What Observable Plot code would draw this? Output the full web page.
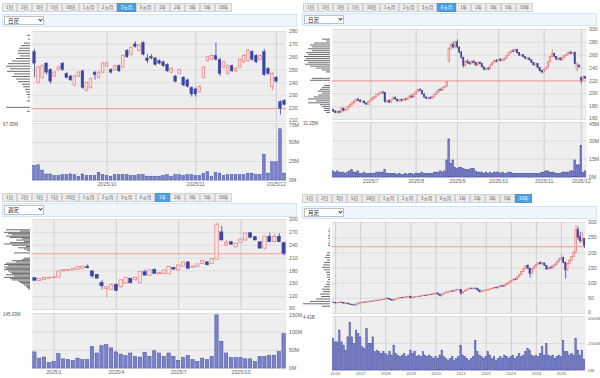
<!DOCTYPE html>
<html><head><meta charset="utf-8">
<script src="https://cdn.jsdelivr.net/npm/d3@7"></script>
<script src="https://cdn.jsdelivr.net/npm/@observablehq/plot@0.6"></script>
<style>
body{margin:0;width:600px;height:378px;position:relative;background:#fff;font-family:"Noto Sans CJK JP","Noto Sans",sans-serif;overflow:hidden}
.tab{position:absolute;height:9px;box-sizing:border-box;border:1px solid #d2d2d2;background:#ececec;color:#555;font-size:4.6px;line-height:7px;text-align:center;white-space:nowrap}
.tab.on{background:#4d9fe2;border-color:#4595db;color:#fff}
.band{position:absolute;box-sizing:border-box;background:#eef6fc;border:1px solid #d4e6f3}
.sel{position:absolute;box-sizing:border-box;background:#fff;border:1px solid #b8c3cc;font-size:5.5px;line-height:8px;color:#222;padding-left:3px}
.chev{position:absolute;width:2px;height:2px;border-right:1px solid #333;border-bottom:1px solid #333;transform:rotate(45deg)}
.lbl{position:absolute;font-size:4.5px;color:#555;font-family:"Liberation Sans",sans-serif;white-space:nowrap}
.holder{position:absolute}
svg{overflow:visible}
</style></head><body><script>
// ---------- shared labels ----------
const tabLabels = ["1日","2日","3日","5日","10日","1ヵ月","2ヵ月","3ヵ月","6ヵ月","1年","2年","3年","5年","10年"];
const refPrice = 220;

// ---------- 3ヵ月 daily (top-left) : [open, high, low, close] ----------
const dailyOHLC3m = [
[264,266,244,255],[240,253,239,252],[244,254,243,253],[255,256,246,248],[250,251,239,241],
[245,249,244,248],[250,253,249,252],[255,256,249,250],[247,248,243,244],[245,246,241,242],
[238,246,237,245],[245,249,244,248],[249,250,235,236],[234,241,233,240],[236,244,235,243],
[248,249,242,246],[244,249,243,248],[248,256,247,255],[253,256,252,255],[250,251,247,248],
[250,254,249,253],[253,254,248,249],[252,262,251,261],[265,266,259,260],[262,268,261,267],
[270,272,267,268],[265,270,264,269],[271,272,261,262],[259,262,255,257],[260,262,258,259],
[259,260,253,254],[257,258,254,255],[256,257,252,253],[254,255,248,249],[248,252,247,251],
[245,246,240,241],[247,251,246,250],[244,245,237,238],[242,243,236,237],[236,237,229,231],
[235,236,229,231],[233,238,232,237],[244,253,243,252],[257,261,256,260],[258,262,257,261],
[261,271,257,258],[258,259,245,247],[252,257,251,256],[247,254,246,253],[253,254,248,249],
[249,252,248,251],[252,259,251,258],[256,262,255,261],[257,266,256,265],[264,265,257,258],
[261,262,255,256],[258,262,257,261],[264,266,245,246],[251,252,246,247],[237,248,234,247],
[244,245,240,241],[225,226,215,220],[226,227,222,223]];
const dailyVol3m = [19,20,13,8,8,6,6,7,7,8,7,5,8,6,6,6,10,7,6,5,7,7,7,7,6,6,7,7,5,5,5,5,6,7,5,7,7,6,7,7,6,6,9,11,5,10,9,6,7,7,7,7,7,9,9,7,7,34,9,24,24,67.35,9];
const priceByVol3m = [[277,3],[274,2],[271,6],[269,9],[267,11],[265,12],[263,12],[261,10],[259,14],[257,18],[255,22],[253,24],[251,20],[249,23],[247,16],[245,18],[243,14],[241,12],[239,8],[237,7],[235,5],[233,4],[231,3],[229,2],[226,3],[221,24],[218,3]];
const priceTicks3m = [210,220,230,240,250,260,270,280];
const volTicks3m = [0,25,50,75];
const dateIdx3m = [18,40,60];
const dateLabels3m = ["2025/10","2025/11","2025/12"];

// ---------- 6ヵ月 daily (top-right) ----------
const dailyOHLC6m = [
[175,176,171,172],[172,174,169,170],[170,173,168,172],[172,173,169,170],[171,178,170,177],
[177,178,172,173],[173,176,172,175],[175,180,174,179],[179,183,178,182],[182,186,181,185],
[185,189,184,188],[188,192,187,191],[191,193,188,189],[189,191,186,187],[187,189,185,188],
[188,189,184,185],[185,186,182,183],[183,188,182,187],
[187,191,186,190],[190,194,189,193],[193,196,191,195],[195,199,194,198],[198,201,196,200],
[200,203,199,202],[202,204,199,201],[201,202,185,187],[187,190,185,189],[189,190,185,186],
[186,191,185,190],[190,195,189,194],[194,195,190,191],[191,192,187,188],[188,191,187,190],
[190,192,187,189],[189,192,188,191],[191,193,189,190],[190,194,189,193],[193,197,192,196],
[196,198,193,194],[194,200,193,199],
[199,204,198,203],[203,207,202,206],[206,208,203,204],[204,205,198,199],[199,200,193,194],
[194,196,191,192],[192,194,190,193],[193,195,191,192],[192,196,191,195],[195,199,194,198],
[198,203,197,202],[202,207,201,206],[206,208,204,205],[205,210,204,209],[209,212,208,211],
[211,219,210,218],[250,272,248,270],[270,279,268,276],[276,280,270,272],[272,282,270,280],
[280,284,270,272],[272,273,262,264],[264,266,254,256],[256,257,240,243],[243,251,242,250],
[250,253,246,248],[248,250,244,246],[246,251,245,250],[250,252,247,248],[248,249,242,244],
[244,249,243,248],[248,250,245,246],[246,247,240,241],[241,242,236,237],[237,240,235,239],
[239,241,236,238],[238,245,237,244],[244,249,243,248],[248,252,247,251],[251,253,248,250],
[250,254,249,253],[253,255,250,251],[251,253,249,252],[252,256,251,255],[255,260,254,259],
[259,264,258,263],[263,267,262,266],[266,269,264,265],[265,269,264,268],[268,269,262,263],
[263,264,258,259],[259,261,257,260],[260,261,256,257],[257,258,253,254],[254,256,252,255],
[255,256,251,252],[252,253,247,248],[248,249,243,244],[244,247,243,246],[246,247,239,240],
[240,241,234,235],[235,237,231,233],
[233,238,232,237],[237,241,236,240],[240,250,239,249],[249,258,248,257],[257,268,256,262],
[262,263,256,257],[257,258,252,253],[253,256,251,255],[255,256,251,252],[252,257,251,256],
[256,260,255,259],[259,262,258,261],[261,265,260,264],[264,266,261,262],[262,264,260,263],
[263,265,245,246],[237,248,234,246],[244,245,240,241],
[225,226,215,220],[221,227,220,226],[226,227,222,223]];
const dailyVol6m = [5,4,5,4,4,4,3,4,5,6,4,4,5,3,3,4,3,3,
3,3,3,4,4,4,4,6,3,3,3,3,3,2,3,2,2,3,2,3,3,2,
3,3,3,4,3,3,3,3,3,4,4,4,5,4,5,14,31.25,11,14,8,
7,8,8,7,6,6,6,7,7,5,4,4,4,3,4,3,4,3,4,4,
4,3,4,3,3,4,4,3,3,3,3,3,3,3,3,3,3,3,3,3,3,4,
4,5,5,4,4,4,3,3,3,4,4,4,4,5,5,14,10,10,
26,4,5];
const priceByVol6m = [[285,8],[282,4],[279,16],[276,20],[273,18],[270,22],[267,18],[264,24],[261,22],[258,26],[255,24],[252,26],[249,22],[246,25],[243,20],[240,14],[237,8],[234,4],[224,18],[221,20],[213,6],[210,8],[207,10],[204,12],[201,8],[198,12],[195,16],[192,22],[189,14],[186,22],[183,10],[180,8],[177,6],[174,6],[171,4]];
const priceTicks6m = [160,180,200,220,240,260,280,300];
const volTicks6m = [0,15,30,45];
const dateIdx6m = [18,40,60,80,102,120];
const dateLabels6m = ["2025/7","2025/8","2025/9","2025/10","2025/11","2025/12"];

// ---------- 1年 weekly (bottom-left) ----------
const weeklyOHLC1y = [
[163,165,155,157],[156,162,155,161],[159,165,158,164],[162,165,161,164],[163,166,162,165],
[164,180,163,179],[179,183,178,182],[180,183,179,182],[181,186,180,185],[183,190,182,189],
[185,191,184,190],[190,194,185,186],[179,180,163,167],[171,172,160,162],[152,158,136,144],
[138,144,117,142],[136,150,134,146],[148,149,131,133],[142,159,140,158],[151,165,150,164],
[162,163,150,151],[158,165,157,164],[151,178,150,177],[177,182,168,169],[169,182,168,181],
[183,184,172,173],[172,176,171,175],[173,182,172,181],[172,190,171,189],[187,189,182,183],
[181,194,180,193],[190,201,189,200],[200,201,184,185],[187,191,186,190],[189,196,188,195],
[196,205,195,203],[200,201,192,193],[196,209,195,208],[206,291,205,288],[270,284,250,251],
[239,251,237,245],[247,249,240,241],[235,244,234,243],[245,254,244,253],[251,268,250,267],
[268,269,256,257],[259,260,250,251],[247,248,231,232],[232,261,229,260],[260,268,246,247],
[247,266,246,259],[260,267,246,247],[245,247,215,220]];
const weeklyVol1y = [44,27,30,15,18,39,25,23,21,27,23,23,59,41,61,64,55,44,38,34,41,32,30,43,32,47,41,32,41,32,21,29,34,23,18,27,23,32,145.03,73,41,29,29,29,25,25,18,32,32,35,35,45,94];
const priceByVol1y = [[276,24],[273,10],[270,26],[267,22],[264,18],[261,24],[258,20],[255,8],[252,14],[249,6],[246,20],[243,26],[240,18],[237,4],[234,12],[231,6],[228,3],[222,16],[210,6],[207,8],[204,18],[201,14],[198,24],[195,26],[192,22],[189,26],[186,24],[183,26],[180,22],[177,20],[174,18],[171,24],[168,16],[165,26],[162,20],[159,18],[156,12],[153,10],[150,8],[147,6],[144,4],[141,3],[138,2]];
const priceTicks1y = [90,120,150,180,210,240,270,300];
const volTicks1y = [0,50,100,150];
const dateIdx1y = [4,17,30,43];
const dateLabels1y = ["2025/1","2025/4","2025/7","2025/10"];

// ---------- 10年 monthly (bottom-right) ----------
const monthlyOHLC10y = [
[36,38,34,35],
[35,36,32,33],[33,35,32,34],[34,37,33,36],[36,37,33,34],[34,35,31,32],[32,34,30,33],
[33,34,29,30],[30,32,27,28],[28,30,26,27],[27,29,25,26],[26,31,25,30],[30,34,29,33],
[33,36,32,35],[35,37,34,36],[36,38,34,35],[35,38,34,37],[37,40,36,39],[39,41,37,38],
[38,41,37,40],[40,43,39,42],[42,44,40,41],[41,44,40,43],[43,46,42,45],[45,47,43,46],
[46,50,45,49],[49,51,46,47],[47,48,43,44],[44,46,41,42],[42,46,41,45],[45,48,44,47],
[47,50,46,49],[49,52,48,51],[51,53,49,50],[50,53,49,52],[52,55,51,54],[54,57,52,55],
[55,57,48,50],[50,53,49,52],[52,55,51,54],[54,56,52,55],[55,57,53,54],[54,58,53,57],
[57,60,56,59],[59,61,56,57],[57,61,56,60],[60,63,59,62],[62,64,60,61],[61,65,60,64],
[64,67,62,66],[66,68,60,62],[62,64,54,58],[58,64,57,63],[63,67,62,66],[66,70,65,69],
[69,72,67,71],[71,74,70,73],[73,75,71,72],[72,76,71,75],[75,78,74,77],[77,79,75,78],
[78,79,60,66],[66,72,64,71],[71,76,70,75],[75,80,74,79],[79,83,77,82],[82,84,79,80],
[80,83,78,82],[82,85,80,81],[81,82,74,76],[76,78,68,70],[70,74,68,73],[73,76,71,74],
[74,77,72,76],[76,79,74,78],[78,81,76,80],[80,83,78,82],[82,85,80,84],[84,86,81,83],
[83,88,82,87],[87,91,86,90],[90,92,87,88],[88,94,87,93],[93,98,92,97],[97,103,96,102],
[102,108,100,107],[107,113,105,112],[112,116,108,110],[110,120,109,119],[119,128,118,127],[127,138,126,137],
[137,148,135,146],[146,158,144,156],[156,160,145,148],[148,150,117,130],[130,148,128,146],[146,156,144,153],
[153,162,150,160],[160,168,158,166],[166,170,160,162],[162,168,160,165],[165,166,155,157],[157,158,142,145],
[145,152,142,150],[150,155,147,148],[148,158,147,156],[156,163,154,161],[161,172,159,170],[170,182,166,178],
[178,193,172,182],[182,186,164,166],[166,170,113,142],[142,166,140,163],[163,176,161,174],[174,188,172,186],
[186,205,184,200],[200,290,198,275],[275,285,240,250],[252,268,231,238],[238,268,232,245],[245,247,215,222]];
const monthlyVol10y = [2900,2600,2600,3700,2600,2300,1840,3070,4410,3070,2460,3700,3380,
3070,2150,2000,3840,2460,2460,3070,1690,1840,1700,1540,1690,
1540,1380,1690,1380,2300,1540,1380,1230,1380,1540,1230,1380,
1840,1540,1690,1230,1380,1230,1690,1380,1230,1380,1230,1075,
1230,1075,1380,1840,1230,1075,920,1075,1230,920,1075,1230,
2300,1380,1230,1075,920,1075,1230,2760,1690,1380,1230,1075,
1230,1690,1380,1075,1230,920,1075,1230,1075,1380,1230,1075,
1230,1380,1075,1230,1540,1230,1380,1690,2000,1840,1380,1230,
1380,1230,1540,2200,1380,2460,1380,1230,1380,1075,1230,1380,
1230,2760,1690,1690,1380,1540,1380,2900,1840,1380,1840,1000];
const priceByVol10y = [[280,1],[272,2],[264,1],[256,2],[248,2],[240,1],[232,2],[224,2],[200,3],[192,4],[184,5],[176,3],[168,6],[160,7],[152,8],[144,6],[136,4],[128,3],[120,3],[112,2],[104,3],[96,4],[88,6],[80,8],[72,7],[64,10],[56,9],[48,14],[40,20],[32,27],[24,8]];
const priceTicks10y = [0,50,100,150,200,250,300];
const volTicks10y = [0,2500,5000];
const dateIdx10y = [1,13,25,37,49,61,73,85,97,109];
const dateLabels10y = ["2016","2017","2018","2019","2020","2021","2022","2023","2024","2025"];

// ---------- layout / style (not data) ----------
const tabWidths = [15,15,15,15,17,19,19,19,19,15,15,15,15,17];
const BG="#eeeeee", GRID="#d8d8d8", VGRID="#c6c6c6", UPC="#ef7b7b", UPF="#fde6e6", DNC="#3b44a3",
      VOLF="#7b81c9", VOLS="#4750a6", REF="#f29a9a", VBPC="#5c5c5c", AXC="#666";

const panels = [
 {ox:0, tabsX:2, tabsY:3, active:7, bandX:2, bandY:14, bandW:295, bandH:13, sel:"日足",
  pTop:31, pBot:121, vTop:123, vBot:180, fr:286, vFont:"5.2px",
  ohlc:dailyOHLC3m, vol:dailyVol3m, vbp:priceByVol3m, yDom:[210,280], yTicks:priceTicks3m,
  vDom:[0,75], vTicks:volTicks3m, vFmt:v=>v+"M", vLabel:"67.35M", xt:dateIdx3m, xl:dateLabels3m, bw:0.33, vw:0.33},
 {ox:300, tabsX:303, tabsY:3, active:8, bandX:302, bandY:13, bandW:295, bandH:13, sel:"日足",
  pTop:29, pBot:119, vTop:122, vBot:177, fr:286, vFont:"5.2px",
  ohlc:dailyOHLC6m, vol:dailyVol6m, vbp:priceByVol6m, yDom:[160,300], yTicks:priceTicks6m,
  vDom:[0,45], vTicks:volTicks6m, vFmt:v=>v+"M", vLabel:"31.25M", xt:dateIdx6m, xl:dateLabels6m, bw:0.32, vw:0.4},
 {ox:0, tabsX:2, tabsY:193, active:9, bandX:2, bandY:203, bandW:295, bandH:14, sel:"週足",
  pTop:219, pBot:309, vTop:313, vBot:368, fr:286, vFont:"5.2px",
  ohlc:weeklyOHLC1y, vol:weeklyVol1y, vbp:priceByVol1y, yDom:[90,300], yTicks:priceTicks1y,
  vDom:[0,150], vTicks:volTicks1y, vFmt:v=>v+"M", vLabel:"145.03M", xt:dateIdx1y, xl:dateLabels1y, bw:0.35, vw:0.35},
 {ox:300, tabsX:302, tabsY:194, active:13, bandX:302, bandY:206, bandW:295, bandH:13, sel:"月足",
  pTop:222, pBot:313, vTop:316, vBot:370, fr:285, vFont:"4.3px",
  ohlc:monthlyOHLC10y, vol:monthlyVol10y, vbp:priceByVol10y, yDom:[0,300], yTicks:priceTicks10y,
  vDom:[0,5000], vTicks:volTicks10y, vFmt:v=>v+"M", vLabel:"4.41B", xt:dateIdx10y, xl:dateLabels10y, bw:0.33, vw:0.36}
];

function el(cls, x, y, w, h, text){
  const d = document.createElement("div");
  d.className = cls;
  d.style.left = x+"px"; d.style.top = y+"px";
  if (w!=null) d.style.width = w+"px";
  if (h!=null) d.style.height = h+"px";
  if (text!=null) d.textContent = text;
  document.body.appendChild(d);
  return d;
}
function place(svg, x, y){
  const h = document.createElement("div");
  h.className = "holder"; h.style.left = x+"px"; h.style.top = y+"px";
  h.appendChild(svg); document.body.appendChild(h);
}
const baseStyle = {background:"transparent", fontSize:"5.2px", color:"#666", fontFamily:"Liberation Sans, Arial, sans-serif", overflow:"visible"};

// right-hand axis labels as text marks, so the edge labels can sit just inside their own panel
function rightLabels(ticks, fmt, edgeValue, edgeDy){
  return [
    Plot.text(ticks.filter(t=>t!==edgeValue), {y:d=>d, text:d=>fmt(d), frameAnchor:"right", dx:2.5, textAnchor:"start", fill:AXC}),
    Plot.text(ticks.filter(t=>t===edgeValue), {y:d=>d, text:d=>fmt(d), frameAnchor:"right", dx:2.5, dy:edgeDy, textAnchor:"start", fill:AXC})
  ];
}

for (const P of panels){
  // tab bar
  let tx = P.tabsX;
  tabLabels.forEach((t,k)=>{ el("tab"+(k===P.active?" on":""), tx, P.tabsY, tabWidths[k], null, t); tx += tabWidths[k]; });
  // dropdown band
  el("band", P.bandX, P.bandY, P.bandW, P.bandH);
  el("sel", P.bandX+2, P.bandY+2, 40, P.bandH-4, P.sel);
  el("chev", P.bandX+37, P.bandY+4.2, null, null);

  const rows = P.ohlc.map((d,i)=>({i, o:d[0], h:d[1], l:d[2], c:d[3]}));
  const n = rows.length;
  const up = rows.filter(d=>d.c>=d.o), dn = rows.filter(d=>d.c<d.o);
  const vrows = P.vol.map((v,i)=>({i, v}));
  const mR = 300 - P.fr, ph = P.pBot - P.pTop, vh = P.vBot - P.vTop;
  const bw = P.bw, vw = P.vw;

  const price = Plot.plot({
    width:300, height:ph+6, marginLeft:32, marginRight:mR, marginTop:4, marginBottom:2,
    style:baseStyle,
    x:{domain:[-0.5, n-0.5], axis:null},
    y:{domain:P.yDom, axis:null},
    marks:[
      Plot.frame({fill:BG, stroke:"none"}),
      Plot.ruleY(P.yTicks, {stroke:GRID, strokeWidth:0.8}),
      Plot.ruleX(P.xt, {stroke:VGRID, strokeWidth:0.8}),
      Plot.ruleY([refPrice], {stroke:REF, strokeWidth:1}),
      Plot.ruleX(up, {x:"i", y1:"l", y2:"h", stroke:UPC, strokeWidth:0.8}),
      Plot.ruleX(dn, {x:"i", y1:"l", y2:"h", stroke:DNC, strokeWidth:0.8}),
      Plot.rect(up, {x1:d=>d.i-bw, x2:d=>d.i+bw, y1:"o", y2:"c", fill:UPF, stroke:UPC, strokeWidth:0.7}),
      Plot.rect(dn, {x1:d=>d.i-bw, x2:d=>d.i+bw, y1:"o", y2:"c", fill:DNC, stroke:DNC, strokeWidth:0.4}),
      ...rightLabels(P.yTicks, d=>String(d), P.yDom[0], -1.6)
    ]
  });
  place(price, P.ox, P.pTop-4);

  const vbp = Plot.plot({
    width:30, height:ph+6, marginLeft:2, marginRight:0, marginTop:4, marginBottom:2,
    style:baseStyle,
    x:{domain:[0,28], reverse:true, axis:null},
    y:{domain:P.yDom, axis:null},
    marks:[ Plot.ruleY(P.vbp, {y:d=>d[0], x1:0, x2:d=>d[1], stroke:VBPC, strokeWidth:0.9}) ]
  });
  place(vbp, P.ox, P.pTop-4);

  const volume = Plot.plot({
    width:300, height:vh+14, marginLeft:32, marginRight:mR, marginTop:4, marginBottom:10,
    style:{...baseStyle, fontSize:P.vFont},
    x:{domain:[-0.5, n-0.5], ticks:P.xt, tickFormat:i=>P.xl[P.xt.indexOf(i)], tickSize:0, tickPadding:1.5, label:null},
    y:{domain:P.vDom, axis:null},
    marks:[
      Plot.frame({fill:BG, stroke:"none"}),
      Plot.ruleY(P.vTicks, {stroke:GRID, strokeWidth:0.8}),
      Plot.ruleX(P.xt, {stroke:VGRID, strokeWidth:0.8}),
      Plot.rect(vrows, {x1:d=>d.i-vw, x2:d=>d.i+vw, y1:0, y2:"v", fill:VOLF, stroke:VOLS, strokeWidth:0.5}),
      ...rightLabels(P.vTicks, P.vFmt, P.vDom[1], 2.2)
    ]
  });
  place(volume, P.ox, P.vTop-4);

  el("lbl", P.ox+3, P.vTop-1, null, null, P.vLabel);
}
</script></body></html>
